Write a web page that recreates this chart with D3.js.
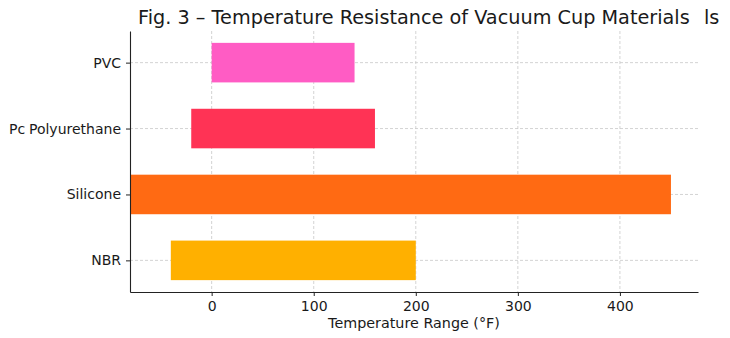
<!DOCTYPE html>
<html><head><meta charset="utf-8">
<script src="https://cdn.jsdelivr.net/npm/d3@7"></script>
<style>body{margin:0;background:#fff}svg{display:block}text{font-family:"DejaVu Sans",sans-serif;fill:#1a1a1a}</style>
</head><body><svg id="c" width="730" height="338"></svg>
<script>
const materials = ["NBR", "Silicone", "Polyurethane", "PVC"];
const minTemp = [-40, -80, -20, 0];
const maxTemp = [200, 450, 160, 140];
const colors = ["#ffb000", "#ff6a13", "#ff3355", "#ff5cc4"];
const xTicks = [0, 100, 200, 300, 400];

const svg = d3.select("#c");
const L = 130, R = 698, T = 31, B = 292;
const x = d3.scaleLinear().domain([-80, 476.5]).range([L, R]);
const y = d3.scaleLinear().domain([-0.48, 3.48]).range([B, T]);
const barH = y(0) - y(0.6);

function fit(sel, w) {
  const n = sel.node();
  const fs = parseFloat(sel.attr("font-size"));
  const len = n.getComputedTextLength();
  sel.attr("font-size", fs * w / len);
}

// grid
const g = svg.append("g");
g.selectAll(".vg").data(xTicks).join("line")
  .attr("x1", d => x(d)).attr("x2", d => x(d)).attr("y1", T).attr("y2", B)
  .attr("stroke", "#c8c8c8").attr("stroke-width", 0.8).attr("stroke-dasharray", "3,2");
g.selectAll(".hg").data(materials).join("line")
  .attr("x1", L).attr("x2", R).attr("y1", (d, i) => y(i)).attr("y2", (d, i) => y(i))
  .attr("stroke", "#c8c8c8").attr("stroke-width", 0.8).attr("stroke-dasharray", "3,2");

// bars
svg.append("g").selectAll("rect").data(materials).join("rect")
  .attr("x", (d, i) => x(Math.max(minTemp[i], -80)))
  .attr("width", (d, i) => x(maxTemp[i]) - x(Math.max(minTemp[i], -80)))
  .attr("y", (d, i) => y(i) - barH / 2)
  .attr("height", barH)
  .attr("fill", (d, i) => colors[i]);

// axes
const xa = svg.append("g").attr("transform", `translate(0,${B})`)
  .call(d3.axisBottom(x).tickValues(xTicks).tickSizeInner(4).tickSizeOuter(0).tickPadding(5));
const ya = svg.append("g").attr("transform", `translate(${L},0)`)
  .call(d3.axisLeft(y).tickValues([0,1,2,3]).tickFormat(i => materials[i]).tickSizeInner(4).tickSizeOuter(0).tickPadding(5));
[xa, ya].forEach(a => {
  a.select(".domain").attr("stroke", "#222").attr("stroke-width", 1.1);
  a.selectAll(".tick line").attr("stroke", "#222");
  a.selectAll("text").attr("font-size", 14).attr("fill", "#1a1a1a").attr("font-family", "DejaVu Sans");
});

const xl = svg.append("text").attr("x", 414).attr("y", 328).attr("text-anchor", "middle")
  .attr("font-size", 14).text("Temperature Range (°F)");
fit(xl, 172);
const tt = svg.append("text").attr("x", 138).attr("y", 24).attr("font-size", 18)
  .text("Fig. 3 – Temperature Resistance of Vacuum Cup Materials");
fit(tt, 552);
svg.append("text").attr("x", 704).attr("y", 24).attr("font-size", tt.attr("font-size")).text("ls");
svg.append("text").attr("x", 9).attr("y", 134).attr("font-size", 14).text("Pc");
</script></body></html>
